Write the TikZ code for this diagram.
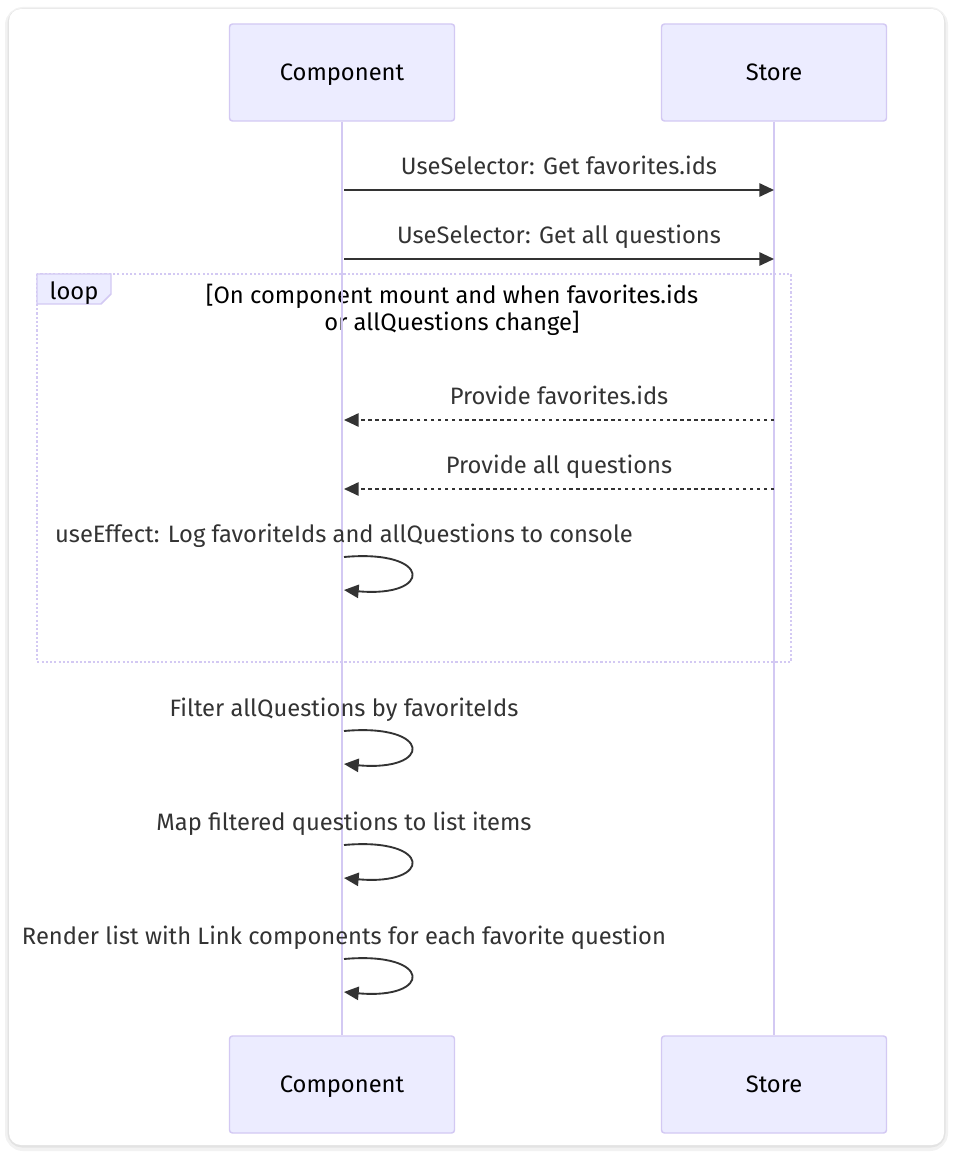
\documentclass[tikz,border=0pt]{standalone}
\usepackage{fontspec}
\setmainfont{Fira Sans}
\usetikzlibrary{arrows.meta,positioning}

\definecolor{actorfill}{HTML}{ECECFF}
\definecolor{actorline}{HTML}{D3C9F3}
\definecolor{msgline}{HTML}{333333}

\tikzset{
    actorbox/.style={draw=actorline, fill=actorfill, line width=1.1pt, rounded corners=2.25pt,
        minimum width=168.75pt, minimum height=72.75pt, font=\fontsize{17.8}{21}\selectfont,
        text=black, text height=14pt, text depth=2pt},
    lifeline/.style={actorline, line width=1.8pt},
    msg/.style={msgline, line width=1.4pt, -{Triangle[length=11pt,width=10pt]}},
    reply/.style={msg, dash pattern=on 2.6pt off 2.6pt},
    msglabel/.style={text=msgline, font=\fontsize{17.8}{21}\selectfont, inner sep=0pt, anchor=base},
    loopframe/.style={actorline, line width=1.7pt, dash pattern=on 1.6pt off 1.6pt}
}

\begin{document}
\begin{tikzpicture}[x=0.75pt, y=-0.75pt]
        \useasboundingbox (0,0) rectangle (953,1155);

        % card with soft shadow
        \draw[black!5, line width=6pt, rounded corners=10.5pt] (9,11) rectangle (944,1147);
        \draw[black!11, line width=2.25pt, rounded corners=9.75pt] (9,10) rectangle (944,1146);
        \fill[white, rounded corners=9pt] (9,9) rectangle (944,1145);

        % actors
        \node[actorbox] (compTop) at (342,72.5) {Component};
        \node[actorbox] (storeTop) at (774,72.5) {Store};
        \node[actorbox] (compBot) at (342,1084.5) {Component};
        \node[actorbox] (storeBot) at (774,1084.5) {Store};

        % loop frame
        \draw[loopframe] (37,274) rectangle (791,662);
        \filldraw[fill=actorfill, draw=actorline, line width=1.1pt]
            (37,274) -- (111,274) -- (111,294) -- (101,304) -- (37,304) -- cycle;
        \node[msglabel, text=black] (loopTag) at (74,299.5) {loop};
        \node[msglabel, text=black] (loopCondA) at (452,303.5) {[On component mount and when favorites.ids};
        \node[msglabel, text=black] (loopCondB) at (452,330.5) {or allQuestions change]};

        \draw[lifeline] (compTop) -- (compBot);
        \draw[lifeline] (storeTop) -- (storeBot);

        % message anchors on the lifelines
        \foreach \name/\y in {a/190, b/259, c/420, d/489}{
            \coordinate (c\name) at (344,\y);
            \coordinate (s\name) at (774,\y);
        }

        \draw[msg] (ca) -- (sa) node[msglabel, midway, yshift=11.5pt] {UseSelector: Get favorites.ids};
        \draw[msg] (cb) -- (sb) node[msglabel, midway, yshift=11.5pt] {UseSelector: Get all questions};
        \draw[reply] (sc) -- (cc) node[msglabel, midway, yshift=11.5pt] {Provide favorites.ids};
        \draw[reply] (sd) -- (cd) node[msglabel, midway, yshift=11.5pt] {Provide all questions};

        % self messages on Component
        \foreach \name/\y/\txt in {e/557/{useEffect: Log favoriteIds and allQuestions to console},
                                   f/731/{Filter allQuestions by favoriteIds},
                                   g/845/{Map filtered questions to list items},
                                   h/959/{Render list with Link components for each favorite question}}{
            \coordinate (in\name) at (344,\y);
            \coordinate (out\name) at (344,\y+33);
            \node[msglabel] (lbl\name) at (344,\y-14.5) {\txt};
            \draw[msg] (in\name) .. controls (433,\y-8) and (433,\y+41) .. (out\name);
        }
    \end{tikzpicture}
\end{document}
